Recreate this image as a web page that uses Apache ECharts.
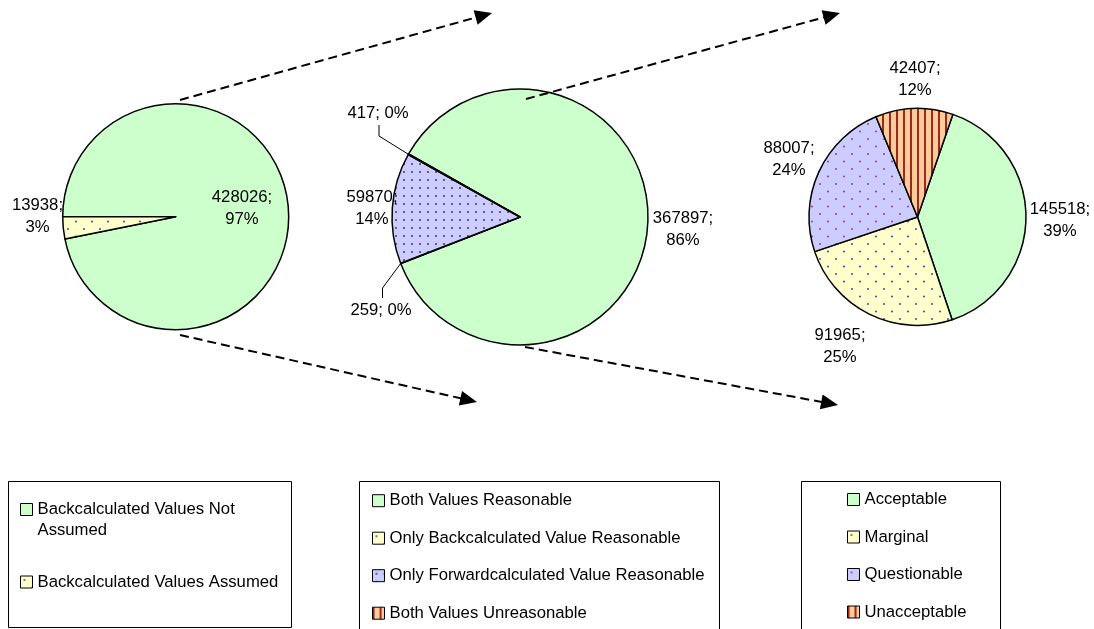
<!DOCTYPE html>
<html>
<head>
<meta charset="utf-8">
<script src="https://cdn.jsdelivr.net/npm/echarts@6/dist/echarts.min.js"></script>
<style>
  html, body { margin: 0; padding: 0; background: #fff; }
  #chart { width: 1094px; height: 629px; }
</style>
</head>
<body>
<div id="chart"></div>
<script>
// Stage 1: were backcalculated values assumed?
const stage1Names = ['Backcalculated Values Not Assumed', 'Backcalculated Values Assumed'];
const stage1Values = [428026, 13938];
const stage1Pct = [97, 3];
const stage1LegendText = ['Backcalculated Values Not\nAssumed', 'Backcalculated Values Assumed'];

// Stage 2: reasonableness of the not-assumed records
const stage2Names = ['Both Values Reasonable', 'Only Backcalculated Value Reasonable',
  'Only Forwardcalculated Value Reasonable', 'Both Values Unreasonable'];
const stage2Values = [367897, 259, 59870, 417];
const stage2Pct = [86, 0, 14, 0];

// Stage 3: quality rating of the records with both values reasonable
const stage3Names = ['Acceptable', 'Marginal', 'Questionable', 'Unacceptable'];
const stage3Values = [145518, 91965, 88007, 42407];
const stage3Pct = [39, 25, 24, 12];

const FONT = 'Liberation Sans, Arial, sans-serif';
const FS = 16.7;

// ---- fill patterns ----
function tile(w, h, bg, draw) {
  const c = document.createElement('canvas');
  c.width = w; c.height = h;
  const g = c.getContext('2d');
  g.fillStyle = bg; g.fillRect(0, 0, w, h);
  draw(g);
  return { image: c, repeat: 'repeat' };
}
function dots(g, color, pts, r) {
  g.fillStyle = color;
  pts.forEach(function (p) { g.beginPath(); g.arc(p[0], p[1], r, 0, Math.PI * 2); g.fill(); });
}
const GREEN = '#CCFFCC';
const yellowDots = tile(16, 15, '#FFFFCC', function (g) { dots(g, '#3a3aa8', [[4, 4], [12, 11.5]], 0.95); });
const blueGrid = tile(8, 8, '#CCCCFF', function (g) { dots(g, '#3c3c5a', [[4, 4]], 1.0); });
const blueDotsPurple = tile(16, 15, '#CCCCFF', function (g) { dots(g, '#8c3c9c', [[4, 4], [12, 11.5]], 0.95); });
const orangeStripes = tile(7, 4, '#FFCC99', function (g) { g.fillStyle = '#982a22'; g.fillRect(0, 0, 2, 4); });

const fills1 = [GREEN, yellowDots];
const fills2 = [GREEN, yellowDots, blueGrid, orangeStripes];
const fills3 = [GREEN, yellowDots, blueDotsPurple, orangeStripes];

// ---- label placement (label centres) and leader lines ----
const labelPos1 = [[242, 208], [37.5, 216]];
const labelPos2 = [[683, 229.5], [381, 310], [372, 208], [378, 113]];
const labelPos3 = [[1060, 220.5], [840, 346], [789, 159], [915, 79]];
const leaders2 = { 1: [[382.5, 288], [382.5, 298]], 3: [[379, 136], [379, 125]] };

function buildData(names, values, fills, withLeader) {
  return names.map(function (n, i) {
    return {
      name: n, value: values[i],
      itemStyle: { color: fills[i] },
      labelLine: { show: !!(withLeader && withLeader[i]) }
    };
  });
}
function labelFormatter(pcts) {
  return function (p) {
    // tiny slices carry a one-line label next to their leader line
    const sep = p.percent < 1 ? ' ' : '\n';
    return p.value + ';' + sep + pcts[p.dataIndex] + '%';
  };
}
function placeLabels(pos, leaders) {
  return function (p) {
    const out = { x: pos[p.dataIndex][0], y: pos[p.dataIndex][1], align: 'center', verticalAlign: 'middle' };
    if (leaders && leaders[p.dataIndex] && p.labelLinePoints) {
      out.labelLinePoints = [p.labelLinePoints[0]].concat(leaders[p.dataIndex]);
    }
    return out;
  };
}
function pieSeries(names, values, fills, pcts, center, radius, startAngle, pos, leaders) {
  return {
    type: 'pie',
    center: center,
    radius: [0, radius],
    startAngle: startAngle,
    clockwise: true,
    avoidLabelOverlap: false,
    percentPrecision: 0,
    emphasis: { disabled: true },
    itemStyle: { borderColor: '#000', borderWidth: 1.5 },
    label: {
      show: true, position: 'outside', color: '#000',
      fontFamily: FONT, fontSize: FS, lineHeight: 22,
      formatter: labelFormatter(pcts)
    },
    labelLine: { show: false, length: 10, length2: 10, lineStyle: { color: '#000', width: 1 } },
    labelLayout: placeLabels(pos, leaders),
    data: buildData(names, values, fills, leaders)
  };
}

// ---- dashed arrows linking the stages ----
const arrows = [
  [180, 100, 492, 13],
  [180, 335, 477, 402],
  [526, 99, 840, 13],
  [525, 347, 838, 405]
];
function arrowGraphics(a) {
  const dx = a[2] - a[0], dy = a[3] - a[1];
  const len = Math.sqrt(dx * dx + dy * dy);
  const ux = dx / len, uy = dy / len;
  const headLen = 17, headHalf = 7.5;
  const bx = a[2] - ux * headLen, by = a[3] - uy * headLen;
  return [
    {
      type: 'line', silent: true, z: 100,
      shape: { x1: a[0], y1: a[1], x2: bx + ux * 2, y2: by + uy * 2 },
      style: { stroke: '#000', lineWidth: 2, lineDash: [9, 5] }
    },
    {
      type: 'polygon', silent: true, z: 100,
      shape: { points: [[a[2], a[3]], [bx - uy * headHalf, by + ux * headHalf], [bx + uy * headHalf, by - ux * headHalf]] },
      style: { fill: '#000' }
    }
  ];
}

// ---- legend frames ----
const legendFrames = [[8, 481, 283, 146], [359, 481, 360, 160], [801, 481, 199, 160]];
const frameGraphics = legendFrames.map(function (f) {
  return {
    type: 'rect', silent: true, z: 0,
    shape: { x: f[0] + 0.5, y: f[1] + 0.5, width: f[2], height: f[3] },
    style: { fill: 'none', stroke: '#000', lineWidth: 1 }
  };
});

function legendBase(extra) {
  return Object.assign({
    orient: 'vertical', padding: 0, icon: 'rect',
    itemWidth: 12, itemHeight: 12,
    selectedMode: false,
    itemStyle: { borderColor: '#000', borderWidth: 1 },
    textStyle: { color: '#000', fontFamily: FONT, fontSize: FS, lineHeight: 20 }
  }, extra);
}

const chart = echarts.init(document.getElementById('chart'), null, { renderer: 'canvas' });
chart.setOption({
  backgroundColor: '#fff',
  animation: false,
  legend: [
    // the wrapped first entry keeps its first line level with the swatch:
    // an empty leading line balances the block around the swatch centre
    legendBase({
      left: 20, top: 478, data: [stage1Names[0]],
      formatter: function () { return '\n' + stage1LegendText[0]; },
      textStyle: { color: '#000', fontFamily: FONT, fontSize: FS, lineHeight: 21 }
    }),
    legendBase({
      left: 20, top: 571.5, data: [stage1Names[1]],
      formatter: function () { return stage1LegendText[1]; },
      textStyle: { color: '#000', fontFamily: FONT, fontSize: FS, lineHeight: 21 }
    }),
    legendBase({ left: 372, top: 490.7, itemGap: 17.5, data: stage2Names }),
    legendBase({ left: 847, top: 489.5, itemGap: 17.5, data: stage3Names })
  ],
  series: [
    pieSeries(stage1Names, stage1Values, fills1, stage1Pct, [175.7, 216.7], 113, 180, labelPos1, null),
    pieSeries(stage2Names, stage2Values, fills2, stage2Pct, [520, 217], 128, 150.5, labelPos2, leaders2),
    pieSeries(stage3Names, stage3Values, fills3, stage3Pct, [917.5, 217], 108.5, 71, labelPos3, null)
  ],
  graphic: frameGraphics.concat.apply(frameGraphics, arrows.map(arrowGraphics))
});
</script>
</body>
</html>
